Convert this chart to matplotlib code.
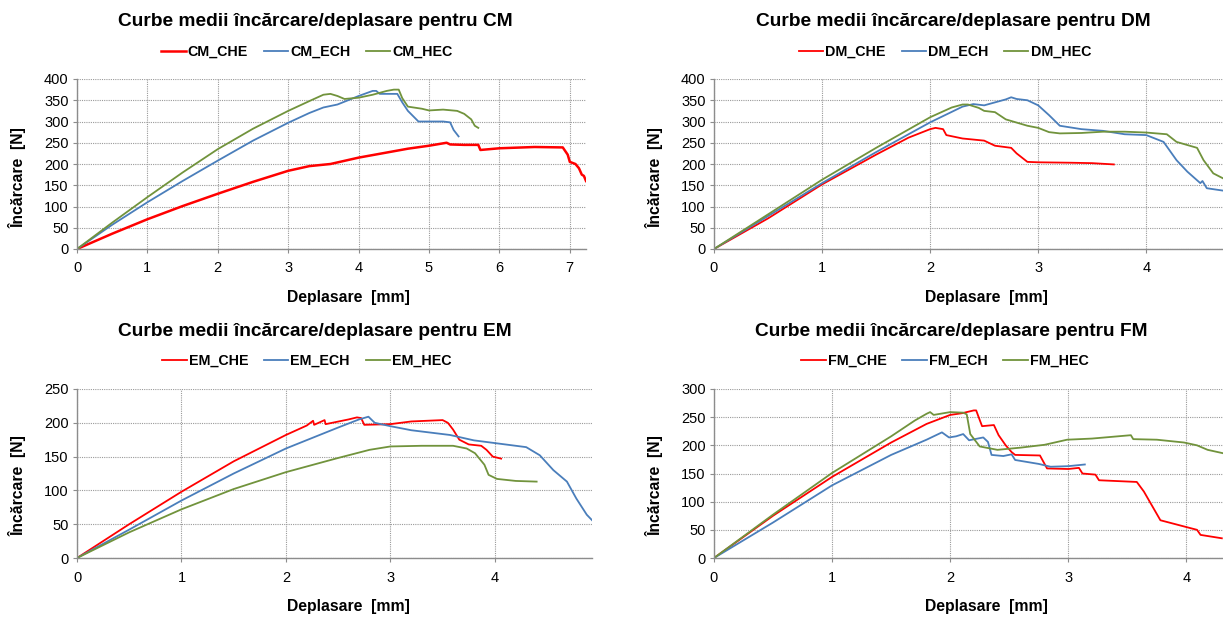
import matplotlib.pyplot as plt

plt.rcParams['font.family'] = ['Liberation Sans', 'DejaVu Sans']

# curve data (deplasare [mm], incarcare [N])

# CM
cm_che_x = [0, 0.5, 1, 1.5, 2, 2.5, 3, 3.3, 3.6, 4, 4.3, 4.7, 5, 5.25, 5.3, 5.5, 5.7, 5.73, 6, 6.5, 6.9, 6.97, 7.0, 7.08, 7.13, 7.17, 7.2, 7.23]
cm_che_y = [0, 36, 70, 101, 130, 158, 184, 195, 200, 215, 224, 236, 243, 250, 246, 245, 245, 233, 237, 240, 239, 222, 205, 200, 190, 175, 172, 160]
cm_ech_x = [0, 0.5, 1, 1.5, 2, 2.5, 3, 3.3, 3.5, 3.7, 4, 4.2, 4.25, 4.3, 4.55, 4.62, 4.7, 4.85, 5.0, 5.2, 5.3, 5.35, 5.42]
cm_ech_y = [0, 57, 110, 160, 208, 255, 297, 320, 333, 340, 360, 372, 372, 365, 365, 345, 325, 300, 300, 300, 298, 280, 265]
cm_hec_x = [0, 0.5, 1, 1.5, 2, 2.5, 3, 3.3, 3.5, 3.6, 3.7, 3.8, 4.0, 4.2, 4.4, 4.5, 4.57, 4.62, 4.7, 4.9, 5.0, 5.2, 5.4, 5.5, 5.6, 5.65, 5.7]
cm_hec_y = [0, 62, 122, 180, 235, 283, 325, 348, 363, 365, 360, 353, 356, 363, 372, 375, 375, 355, 335, 330, 326, 328, 325, 318, 305, 290, 285]

# DM
dm_che_x = [0, 0.5, 1, 1.5, 1.8, 2.0, 2.05, 2.12, 2.15, 2.3, 2.5, 2.6, 2.75, 2.8, 2.9, 3.0, 3.3, 3.5, 3.7]
dm_che_y = [0, 72, 152, 222, 262, 282, 285, 282, 268, 260, 255, 243, 238, 225, 205, 204, 203, 202, 199]
dm_ech_x = [0, 1, 1.5, 2, 2.3, 2.4, 2.5, 2.6, 2.7, 2.75, 2.8, 2.9, 3.0, 3.1, 3.2, 3.4, 3.6, 3.8, 4.0, 4.16, 4.28, 4.38, 4.5, 4.52, 4.56, 4.72]
dm_ech_y = [0, 155, 228, 298, 335, 341, 338, 345, 352, 357, 353, 350, 338, 315, 290, 282, 278, 270, 268, 252, 209, 182, 155, 160, 143, 137]
dm_hec_x = [0, 1, 1.5, 2, 2.2, 2.3, 2.35, 2.45, 2.5, 2.6, 2.7, 2.9, 3.0, 3.1, 3.2, 3.4, 3.6, 3.8, 4.0, 4.19, 4.28, 4.47, 4.53, 4.62, 4.72]
dm_hec_y = [0, 163, 238, 310, 333, 340, 340, 332, 325, 322, 305, 290, 285, 275, 272, 273, 276, 276, 274, 270, 252, 238, 209, 178, 165]

# EM
em_che_x = [0, 0.5, 1, 1.5, 2, 2.2, 2.26, 2.27, 2.37, 2.38, 2.6, 2.68, 2.72, 2.75, 3.0, 3.2, 3.5, 3.55, 3.6, 3.66, 3.75, 3.87, 3.92, 3.98, 4.06]
em_che_y = [0, 50, 98, 143, 182, 196, 203, 197, 204, 198, 205, 208, 207, 197, 198, 202, 204, 200, 190, 175, 168, 166, 160, 150, 147]
em_ech_x = [0, 0.5, 1, 1.5, 2, 2.5, 2.7, 2.79, 2.85, 3.0, 3.2, 3.57, 3.8, 4.05, 4.3, 4.43, 4.56, 4.69, 4.78, 4.88, 4.93]
em_ech_y = [0, 42, 85, 125, 162, 193, 205, 209, 200, 195, 189, 182, 174, 169, 164, 152, 130, 113, 88, 64, 56]
em_hec_x = [0, 0.5, 1, 1.5, 2, 2.5, 2.8, 3.0, 3.3, 3.6, 3.73, 3.81, 3.9, 3.94, 4.02, 4.2, 4.4]
em_hec_y = [0, 38, 72, 102, 127, 148, 160, 165, 166, 166, 162, 155, 138, 123, 117, 114, 113]

# FM
fm_che_x = [0, 0.5, 1, 1.5, 1.8, 2.0, 2.1, 2.2, 2.22, 2.25, 2.27, 2.37, 2.41, 2.47, 2.52, 2.55, 2.76, 2.82, 3.0, 3.09, 3.12, 3.23, 3.26, 3.58, 3.64, 3.78, 3.98, 4.09, 4.12, 4.3]
fm_che_y = [0, 75, 144, 205, 238, 254, 257, 262, 262, 245, 234, 236, 218, 200, 188, 183, 182, 159, 158, 160, 150, 148, 138, 135, 118, 67, 56, 50, 41, 35]
fm_ech_x = [0, 0.5, 1, 1.5, 1.8, 1.93, 1.99, 2.05, 2.11, 2.16, 2.28, 2.32, 2.35, 2.45, 2.52, 2.55, 2.75, 2.85, 3.0, 3.14]
fm_ech_y = [0, 63, 129, 183, 210, 223, 214, 216, 220, 209, 214, 206, 183, 181, 184, 174, 167, 162, 163, 166]
fm_hec_x = [0, 0.5, 1, 1.5, 1.7, 1.8, 1.83, 1.86, 2.0, 2.11, 2.14, 2.17, 2.25, 2.4, 2.6, 2.8, 2.99, 3.2, 3.53, 3.55, 3.75, 3.98, 4.09, 4.18, 4.31]
fm_hec_y = [0, 77, 151, 216, 244, 256, 259, 254, 259, 258, 255, 220, 198, 192, 196, 201, 210, 212, 218, 211, 210, 205, 200, 192, 186]

RED = '#ff0000'
BLUE = '#4a7ebb'
GREEN = '#71933c'

W, H = 1223, 617
fig = plt.figure(figsize=(W / 100, H / 100), dpi=100)


def fx(px):
    return px / W


def fy(py):
    return 1 - py / H


panels = [
    # name, axes box in px (left, top, right, bottom), xmax, ymax,
    # title / legend / xlabel / ylabel centres in px, series, red line width
    ('CM', (77, 79, 586, 249), 7.23, 400, (315, 22), (307, 52), (348, 298), (18, 178),
     [(cm_che_x, cm_che_y), (cm_ech_x, cm_ech_y), (cm_hec_x, cm_hec_y)], 1.8),
    ('DM', (714, 79, 1223, 249), 4.71, 400, (953, 22), (945, 52), (986, 298), (655, 178),
     [(dm_che_x, dm_che_y), (dm_ech_x, dm_ech_y), (dm_hec_x, dm_hec_y)], 1.3),
    ('EM', (77, 389, 592, 558), 4.93, 250, (315, 332), (307, 361), (348, 607), (18, 486),
     [(em_che_x, em_che_y), (em_ech_x, em_ech_y), (em_hec_x, em_hec_y)], 1.3),
    ('FM', (714, 389, 1223, 558), 4.31, 300, (951, 332), (945, 361), (986, 607), (655, 486),
     [(fm_che_x, fm_che_y), (fm_ech_x, fm_ech_y), (fm_hec_x, fm_hec_y)], 1.3),
]

for name, (l, t, r, b), xmax, ymax, tpos, lpos, xlpos, ylpos, series, red_lw in panels:
    ax = fig.add_axes([fx(l), fy(b), (r - l) / W, (b - t) / H])
    colors = [RED, BLUE, GREEN]
    labels = [name + '_CHE', name + '_ECH', name + '_HEC']
    for (xs, ys), c, lab in zip(series, colors, labels):
        lw = red_lw if c == RED else 1.3
        ax.plot(xs, ys, color=c, lw=lw, label=lab, solid_joinstyle='round')
    ax.set_xlim(0, xmax)
    ax.set_ylim(0, ymax)
    ax.set_xticks(range(0, int(xmax) + 1))
    ax.set_yticks(range(0, ymax + 1, 50))
    ax.grid(True, color='#9a9a9a', lw=0.8, ls=(0, (1, 1)))
    ax.set_axisbelow(True)
    for s in ['top', 'right']:
        ax.spines[s].set_visible(False)
    for s in ['left', 'bottom']:
        ax.spines[s].set_color('#8c8c8c')
        ax.spines[s].set_linewidth(1.0)
    ax.tick_params(direction='out', length=3, width=0.8, color='#8c8c8c',
                   labelsize=10.5, pad=3)
    ax.tick_params(axis='x', pad=6)

    fig.text(fx(tpos[0]), fy(tpos[1]), 'Curbe medii încărcare/deplasare pentru ' + name,
             ha='center', va='center', fontsize=13.8, fontweight='bold')
    ax.legend(loc='center', bbox_to_anchor=(fx(lpos[0]), fy(lpos[1])),
              bbox_transform=fig.transFigure, ncol=3, frameon=False,
              prop={'weight': 'bold', 'size': 10.3}, handlelength=1.7,
              handletextpad=0.15, columnspacing=1.1, borderpad=0)
    fig.text(fx(xlpos[0]), fy(xlpos[1]), 'Deplasare  [mm]', ha='center', va='center',
             fontsize=11.3, fontweight='bold')
    fig.text(fx(ylpos[0]), fy(ylpos[1]), 'Încărcare  [N]', ha='center', va='center',
             rotation=90, fontsize=11.3, fontweight='bold')

fig.savefig('out.png', dpi=100)
